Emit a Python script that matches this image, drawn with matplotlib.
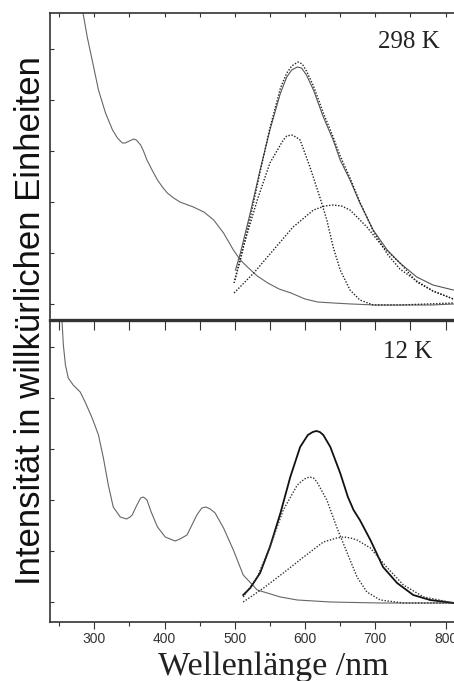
import numpy as np
import matplotlib
matplotlib.use("Agg")
import matplotlib.pyplot as plt
from matplotlib.ticker import MultipleLocator

# Intensitäten in willkürlichen Einheiten
# 298 K: Absorption
abs298_wl = [281, 284, 290, 297, 306, 316, 326, 333, 340, 344, 350, 356, 360, 366,
             370, 375, 383, 390, 397, 404, 413, 422, 441, 456, 470, 484, 498, 508,
             518, 532, 547, 563, 580, 600, 618, 640, 666, 700, 740, 780, 812]
abs298_i = [320, 305, 281, 258, 228, 205, 188, 180, 175, 175, 177, 179, 178, 173,
            167, 158, 147, 138, 131, 125, 120, 116, 111, 106, 98, 85, 68, 58,
            51, 42, 35, 29, 25, 19, 16, 15, 14, 13, 13, 13, 14]

# 298 K: Emission (gemessen), Fit-Summe und zwei Komponenten
em298_wl = [501, 508, 522, 536, 550, 565, 574, 581, 589, 595, 602, 612, 626, 640,
            650, 664, 678, 697, 717, 735, 759, 782, 811]
em298_i = [48, 65, 105, 148, 188, 225, 241, 248, 251, 250, 243, 228, 201, 178,
           158, 138, 115, 88, 68, 55, 41, 33, 28]

fit298_wl = [500, 508, 522, 536, 550, 565, 574, 581, 590, 596, 602, 612, 626, 640,
             650, 664, 678, 697, 717, 735, 759, 782, 811]
fit298_i = [38, 58, 100, 146, 190, 230, 245, 252, 256, 254, 247, 232, 205, 181,
            162, 140, 116, 87, 64, 49, 37, 27, 19]

k1_298_wl = [499, 512, 532, 550, 569, 574, 581, 587, 593, 607, 621, 631, 640, 650,
             664, 678, 697, 735, 811]
k1_298_i = [35, 71, 118, 155, 178, 182, 183, 181, 178, 151, 121, 98, 71, 48,
            28, 18, 13, 13, 15]

k2_298_wl = [499, 527, 555, 583, 612, 628, 640, 652, 664, 688, 711, 735, 759, 782, 811]
k2_298_i = [25, 45, 68, 91, 108, 112, 113, 112, 108, 91, 71, 55, 36, 27, 19]

# 12 K: Absorption
abs12_wl = [252, 254, 256, 259, 263, 270, 280, 287, 297, 306, 313, 320, 327, 337,
            346, 351, 354, 360, 366, 370, 375, 381, 390, 401, 408, 415, 422, 432,
            446, 453, 459, 465, 472, 484, 498, 512, 532, 565, 589, 636, 707, 812]
abs12_i = [320, 302, 277, 257, 244, 237, 230, 220, 204, 187, 164, 137, 115, 105,
           103, 105, 107, 116, 124, 125, 122, 110, 95, 85, 83, 81, 83, 87,
           107, 114, 115, 113, 109, 94, 72, 47, 32, 25, 22, 20, 19, 19]

# 12 K: Emission und Komponenten
em12_wl = [512, 522, 536, 550, 565, 579, 593, 604, 611, 616, 621, 626, 636, 650,
           661, 669, 678, 693, 711, 731, 754, 778, 812]
em12_i = [27, 34, 49, 75, 109, 145, 175, 187, 190, 191, 190, 187, 175, 149,
          125, 112, 102, 82, 55, 39, 27, 22, 19]

k1_12_wl = [512, 532, 550, 569, 589, 599, 606, 612, 617, 631, 645, 660, 674, 688,
            707, 740, 812]
k1_12_i = [25, 45, 75, 112, 137, 143, 145, 144, 140, 122, 95, 69, 45, 30,
           22, 19, 19]

k2_12_wl = [512, 541, 569, 598, 626, 645, 655, 665, 674, 693, 716, 740, 769, 812]
k2_12_i = [20, 34, 49, 65, 80, 84, 85, 84, 82, 74, 55, 37, 25, 19]

x_ticks = [300, 400, 500, 600, 700, 800]

plt.rcParams['font.family'] = 'Liberation Sans'
fig = plt.figure(figsize=(4.54, 6.81), dpi=100)

W, H = 454, 681
links = 50 / W
ax1 = fig.add_axes([links, (H - 318) / H, 1 - links, 305 / H])
ax2 = fig.add_axes([links, (H - 622) / H, 1 - links, 302 / H])

spine_c = '#333333'
dot = (0, (1, 1.2))

for ax in (ax1, ax2):
    ax.set_xlim(237, 812)
    ax.spines['right'].set_visible(False)
    for s in ('left', 'top', 'bottom'):
        ax.spines[s].set_color(spine_c)
        ax.spines[s].set_linewidth(1.2)
    ax.set_yticklabels([])
    ax.tick_params(axis='y', direction='in', length=3, width=0.8, color=spine_c,
                   left=True, right=False)
ax1.spines['bottom'].set_visible(False)
ax2.spines['top'].set_linewidth(2.4)

# oberes Bild: 298 K
ax1.plot(abs298_wl, abs298_i, color='#666666', lw=0.8)
ax1.plot(em298_wl, em298_i, color='#555555', lw=0.8)
ax1.plot(fit298_wl, fit298_i, color='#222222', lw=1.0, ls=dot)
ax1.plot(k1_298_wl, k1_298_i, color='#222222', lw=1.0, ls=dot)
ax1.plot(k2_298_wl, k2_298_i, color='#222222', lw=1.0, ls=dot)
ax1.set_ylim(0, 305)
ax1.set_yticks(np.arange(14, 300, 51))
ax1.xaxis.set_major_locator(MultipleLocator(50))
ax1.tick_params(axis='x', direction='in', length=3, width=0.8, color=spine_c,
                top=True, bottom=False, labelbottom=False)
fig.text(440 / W, 1 - 48 / H, "298 K", ha='right', va='baseline',
         family='Liberation Serif', fontsize=18, color='#222222')

# unteres Bild: 12 K
ax2.plot(abs12_wl, abs12_i, color='#666666', lw=0.8)
ax2.plot(em12_wl, em12_i, color='#111111', lw=1.3)
ax2.plot(k1_12_wl, k1_12_i, color='#333333', lw=1.0, ls=dot)
ax2.plot(k2_12_wl, k2_12_i, color='#333333', lw=1.0, ls=dot)
ax2.set_ylim(0, 302)
ax2.set_yticks(np.arange(20, 300, 51))
ax2.set_xticks(x_ticks)
ax2.xaxis.set_minor_locator(MultipleLocator(50))
ax2.tick_params(axis='x', which='major', direction='out', length=5, width=0.8,
                color=spine_c, labelsize=10, labelcolor='#333333', pad=2)
ax2.tick_params(axis='x', which='minor', direction='out', length=3, width=0.8,
                color=spine_c)
fig.text(432 / W, 1 - 358 / H, "12 K", ha='right', va='baseline',
         family='Liberation Serif', fontsize=18, color='#222222')

# Ticks an der Oberkante des unteren Bildes
sec = ax2.secondary_xaxis('top')
sec.xaxis.set_major_locator(MultipleLocator(50))
sec.tick_params(axis='x', direction='in', length=7, width=0.8, color=spine_c,
                labeltop=False)

fig.text(273 / W, 6 / H, "Wellenlänge /nm", ha='center', va='baseline',
         family='Liberation Serif', fontsize=24.5, color='#222222')
fig.text(31 / W, 1 - 321 / H, "Intensität in willkürlichen Einheiten",
         rotation=90, ha='center', va='center', fontsize=25, color='#111111')

fig.savefig("out.png", dpi=100)
